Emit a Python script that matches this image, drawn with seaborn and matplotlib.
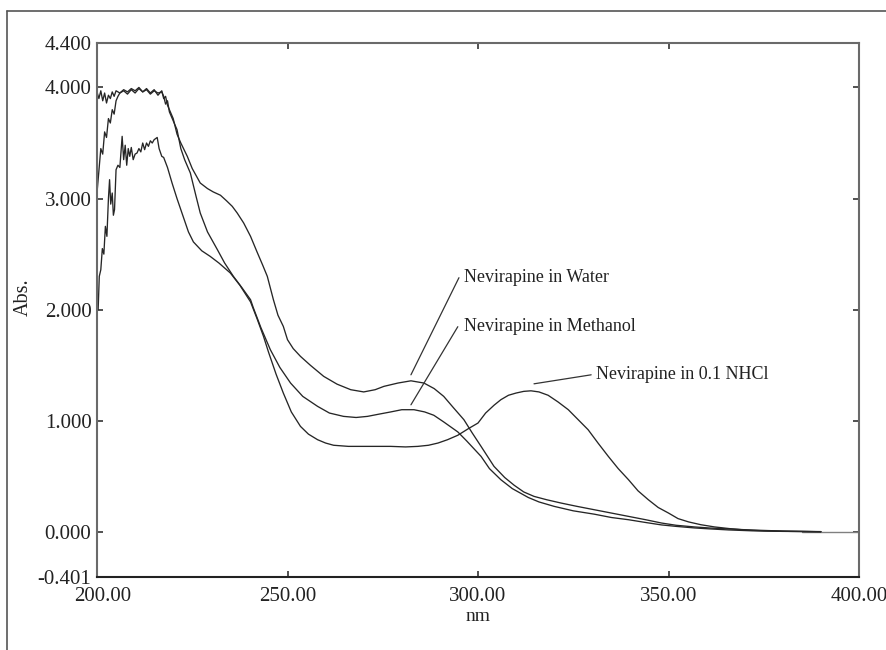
import numpy as np
import pandas as pd
import matplotlib
matplotlib.use("Agg")
import matplotlib.pyplot as plt
import matplotlib.transforms as mtransforms
from matplotlib.lines import Line2D
import seaborn as sns

# ---- data ----
water_nm = [200, 200.5, 201, 201.5, 202, 202.5, 203, 203.5, 204, 204.5, 205, 206, 207, 208, 209, 210,
            211, 212, 213, 214, 215, 216, 217, 217.5, 218, 218.5, 219, 219.5, 220, 220.5, 221, 222,
            223.7, 225, 227.1, 229, 230.5, 232.4, 234, 235.5, 236.8, 238.5, 240.3, 242, 243.5, 244.7,
            246.3, 247.5, 248.9, 250, 251.5, 253.4, 256, 259.5, 263, 266.6, 270, 273, 275.3, 279,
            282.4, 285.8, 288.5, 291, 293.5, 296.3, 298.5, 300.8, 304.2, 307, 309.5, 312, 314.7, 318,
            321.8, 326, 330.5, 335, 339.5, 344, 348.2, 352, 356.8, 361, 365.8, 372, 380, 390]
water_abs = [3.96, 3.90, 3.97, 3.88, 3.95, 3.86, 3.93, 3.90, 3.96, 3.92, 3.97, 3.95, 3.98, 3.96, 3.99, 3.97,
             4.00, 3.96, 3.99, 3.95, 3.98, 3.93, 3.97, 3.90, 3.92, 3.84, 3.80, 3.76, 3.72, 3.65, 3.58, 3.50,
             3.38, 3.27, 3.14, 3.09, 3.06, 3.03, 2.98, 2.93, 2.87, 2.78, 2.66, 2.52, 2.40, 2.30,
             2.09, 1.95, 1.85, 1.73, 1.65, 1.58, 1.50, 1.40, 1.33, 1.28, 1.26, 1.28, 1.31, 1.34,
             1.36, 1.34, 1.29, 1.22, 1.12, 1.01, 0.89, 0.77, 0.59, 0.49, 0.42, 0.36, 0.32, 0.29,
             0.26, 0.23, 0.20, 0.17, 0.14, 0.11, 0.08, 0.06, 0.045, 0.035, 0.027, 0.017, 0.008, 0.003]

meoh_nm = [200, 200.5, 201, 201.5, 202, 202.5, 203, 203.5, 204, 204.5, 205, 205.5, 206, 207, 208, 209,
           210, 211, 212, 213, 214, 215, 216, 217, 217.5, 218, 218.5, 219, 220, 221, 222, 223, 224.5,
           226, 227.1, 229, 231.6, 233.5, 235.8, 238, 240.3, 241, 243, 245.5, 248, 250.8, 254, 257.9,
           261, 264.7, 268, 271, 274, 277.1, 280, 283.2, 286, 288.4, 291, 294.7, 297, 300.8, 303,
           306, 309, 313.2, 316, 320, 325, 330.5, 335, 339.5, 344, 348.2, 352, 356.8, 361, 365.8,
           372, 380, 390]
meoh_abs = [3.05, 3.25, 3.45, 3.40, 3.60, 3.55, 3.72, 3.68, 3.80, 3.76, 3.88, 3.92, 3.95, 3.97, 3.94, 3.98,
            3.95, 3.99, 3.96, 3.98, 3.94, 3.97, 3.95, 3.96, 3.92, 3.85, 3.88, 3.78, 3.70, 3.62, 3.45, 3.35, 3.23,
            3.02, 2.87, 2.70, 2.54, 2.42, 2.30, 2.20, 2.09, 2.02, 1.84, 1.64, 1.48, 1.34, 1.22, 1.13,
            1.07, 1.04, 1.03, 1.04, 1.06, 1.08, 1.10, 1.10, 1.08, 1.05, 0.99, 0.90, 0.82, 0.68, 0.57,
            0.47, 0.39, 0.31, 0.27, 0.23, 0.19, 0.16, 0.13, 0.11, 0.085, 0.063, 0.05, 0.036, 0.027, 0.018,
            0.01, 0.005, 0.002]

hcl_nm = [200, 200.3, 200.6, 201, 201.4, 201.8, 202.2, 202.6, 203, 203.3, 203.6, 204, 204.3, 204.6, 205,
          205.5, 206, 206.6, 207, 207.4, 207.8, 208.2, 208.6, 209, 209.5, 210, 210.5, 211, 211.5, 212,
          212.5, 213, 213.5, 214, 214.5, 215, 215.8, 216.3, 217, 217.5, 218.5, 219.7, 221, 222.6, 224,
          225.3, 227.5, 229.7, 232, 235, 237.5, 240.3, 242, 243.7, 245, 247, 248.9, 251, 253.4, 255.5,
          257.9, 260, 262.1, 266, 269.2, 273, 277.1, 281, 284.2, 287, 289.5, 292, 294.7, 297.5, 300,
          302, 304.2, 306, 308, 310, 312, 313.9, 316, 318.4, 321, 323.7, 326.3, 328.9, 331.5, 334.2,
          336.8, 339.5, 342, 344.7, 347.3, 350, 352.5, 355.3, 358.5, 362.1, 366, 370, 375, 382, 390]
hcl_abs = [2.09, 2.00, 2.30, 2.36, 2.55, 2.50, 2.75, 2.66, 3.00, 3.17, 2.95, 3.05, 2.85, 2.90, 3.26,
           3.30, 3.28, 3.56, 3.35, 3.48, 3.30, 3.45, 3.38, 3.46, 3.35, 3.40, 3.41, 3.45, 3.42, 3.50,
           3.44, 3.50, 3.47, 3.52, 3.50, 3.53, 3.55, 3.45, 3.38, 3.37, 3.28, 3.14, 3.00, 2.84, 2.70,
           2.61, 2.53, 2.48, 2.42, 2.33, 2.22, 2.07, 1.92, 1.76, 1.62, 1.42, 1.25, 1.08, 0.95, 0.88,
           0.83, 0.80, 0.78, 0.77, 0.77, 0.77, 0.77, 0.765, 0.77, 0.78, 0.80, 0.83, 0.87, 0.93, 0.98,
           1.07, 1.14, 1.19, 1.23, 1.25, 1.265, 1.27, 1.26, 1.23, 1.17, 1.10, 1.01, 0.92, 0.80, 0.68,
           0.57, 0.47, 0.37, 0.29, 0.22, 0.17, 0.12, 0.09, 0.065, 0.045, 0.03, 0.018, 0.01, 0.005, 0.002]

series_names = ["Nevirapine in Water", "Nevirapine in Methanol", "Nevirapine in 0.1 NHCl"]
x_ticks = [200, 250, 300, 350, 400]
x_ticklabels = ["200.00", "250.00", "300.00", "350.00", "400.00"]
y_ticks = [-0.401, 0.0, 1.0, 2.0, 3.0, 4.0, 4.4]
y_ticklabels = ["-0.401", "0.000", "1.000", "2.000", "3.000", "4.000", "4.400"]

df = pd.concat([
    pd.DataFrame({"nm": water_nm, "Abs": water_abs, "series": series_names[0]}),
    pd.DataFrame({"nm": meoh_nm, "Abs": meoh_abs, "series": series_names[1]}),
    pd.DataFrame({"nm": hcl_nm, "Abs": hcl_abs, "series": series_names[2]}),
], ignore_index=True)

sns.set_style("ticks")
plt.rcParams["font.family"] = ["Liberation Serif", "DejaVu Serif"]

fig = plt.figure(figsize=(8.86, 6.5), dpi=100)
ax = fig.add_axes([97 / 886, 1 - 576.5 / 650, (859 - 97) / 886, (576.5 - 43) / 650])

# faint baseline at zero near the right end
ax.plot([385, 400], [0, 0], color="#808080", lw=1.0, zorder=1)

sns.lineplot(data=df, x="nm", y="Abs", hue="series", units="series", estimator=None,
             palette=["#262626"] * 3, linewidth=0.95, legend=False, sort=False, ax=ax, zorder=2)

ax.set_xlim(200, 400)
ax.set_ylim(-0.401, 4.4)
ax.set_xticks(x_ticks)
ax.set_xticklabels(x_ticklabels)
ax.set_yticks(y_ticks)
ax.set_yticklabels(y_ticklabels)
ax.tick_params(axis="both", direction="in", length=4, width=1.2, colors="#333333",
               labelsize=15, labelcolor="#222222", top=True, right=True)
ax.tick_params(axis="x", pad=7.5)
ax.tick_params(axis="y", pad=4)
ax.set_xlabel("")
ax.set_ylabel("")
for side in ["left", "top", "right"]:
    ax.spines[side].set_color("#6a6a6a")
    ax.spines[side].set_linewidth(1.5)
ax.spines["bottom"].set_color("#222222")
ax.spines["bottom"].set_linewidth(1.5)

# first x tick label sits a little to the right of its tick
first = ax.get_xticklabels()[0]
first.set_transform(first.get_transform() + mtransforms.ScaledTranslation(6 / 100, 0, fig.dpi_scale_trans))

fig.text(478 / 886, 1 - 621 / 650, "nm", ha="center", va="baseline", fontsize=14, color="#222222")
fig.text(23 / 886, 1 - 297 / 650, "Abs.", ha="center", va="center", rotation=90,
         fontsize=14.5, color="#222222")

# annotations (label positions)
label_text_xy = [(296.3, 2.288), (296.3, 1.847), (331.0, 1.414)]
label_point_xy = [(282.4, 1.414), (282.4, 1.144), (314.7, 1.333)]
label_line_end = [(295.0, 2.288), (294.7, 1.847), (329.7, 1.414)]
for name, txy, pxy, exy in zip(series_names, label_text_xy, label_point_xy, label_line_end):
    ax.plot([pxy[0], exy[0]], [pxy[1], exy[1]], color="#333333", lw=0.9)
    ax.text(txy[0], txy[1], name, ha="left", va="center", fontsize=13, color="#222222")

# outer frame (top and left edges)
fig.add_artist(Line2D([7 / 886, 7 / 886], [0, 1 - 11 / 650], transform=fig.transFigure,
                      color="#555555", lw=1.2))
fig.add_artist(Line2D([7 / 886, 1], [1 - 11 / 650, 1 - 11 / 650], transform=fig.transFigure,
                      color="#555555", lw=1.2))

fig.savefig("out.png", dpi=100)
